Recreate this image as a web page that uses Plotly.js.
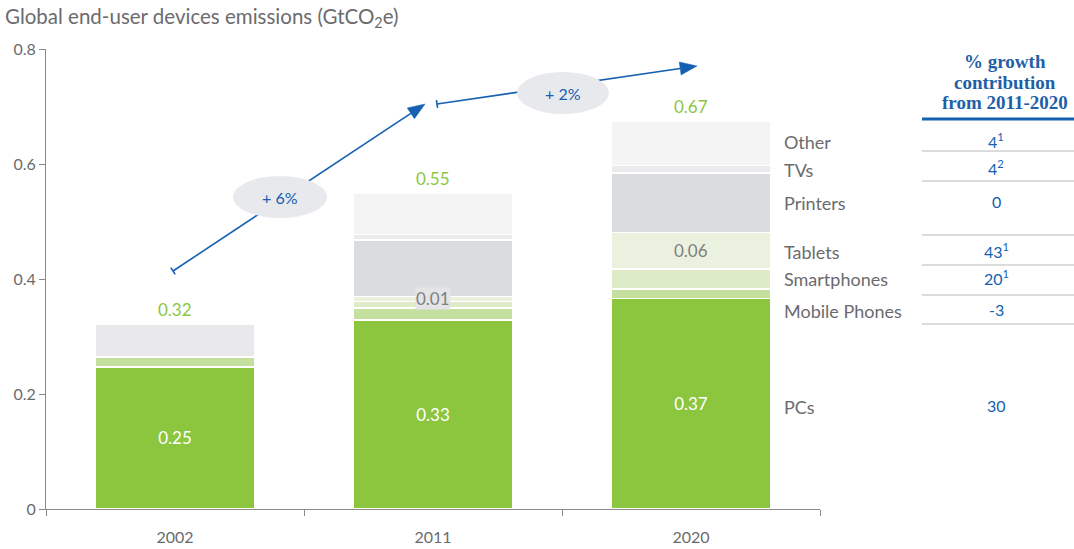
<!DOCTYPE html>
<html>
<head>
<meta charset="utf-8">
<script src="https://cdn.plot.ly/plotly-3.0.1.min.js"></script>
<style>html,body{margin:0;padding:0;background:#fff;}#chart{width:1074px;height:549px;}</style>
</head>
<body>
<div id="chart"></div>
<script>
// ---- data ----
const years = ['2002', '2011', '2020'];
const pcs = [0.247, 0.329, 0.366];
const mobilePhones = [0.017, 0.021, 0.017];
const smartphones = [0, 0.011, 0.034];
const tablets = [0, 0.009, 0.064];
const printers = [0, 0.098, 0.103];
const tvs = [0, 0.009, 0.013];
const other = [0.058, 0.073, 0.077];
const totals = ['0.32', '0.55', '0.67'];
const pcLabels = ['0.25', '0.33', '0.37'];
const tabletLabels = ['', '0.01', '0.06'];
const segmentNames = ['Other', 'TVs', 'Printers', 'Tablets', 'Smartphones', 'Mobile Phones', 'PCs'];
const growth = ['4<sup>1</sup>', '4<sup>2</sup>', '0', '43<sup>1</sup>', '20<sup>1</sup>', '-3', '30'];
const growthHeader = ['% growth', 'contribution', 'from 2011-2020'];
const cagrLabels = ['+ 6%', '+ 2%'];

// ---- layout helpers (pixel -> paper) ----
const L = 46, R = 820, T = 49, B = 509;
const px = x => (x - L) / (R - L);
const py = y => (B - y) / (B - T);

const FONT = 'Lato, Open Sans, sans-serif';
const GREY = '#6b6b6e';
const BLUE = '#1560B0';
const GREEN = '#8CC63F';

function bar(name, vals, color, extra) {
  return Object.assign({
    type: 'bar', name: name, x: years, y: vals,
    width: 0.62,
    marker: {color: color, line: {color: '#ffffff', width: 1.5}},
    hoverinfo: 'skip', textposition: 'none'
  }, extra || {});
}

const traces = [
  bar('PCs', pcs, GREEN, {text: pcLabels, textposition: 'inside', insidetextanchor: 'middle',
      textfont: {color: '#ffffff', size: 17, family: FONT}}),
  bar('Mobile Phones', mobilePhones, '#C5DF9E'),
  bar('Smartphones', smartphones, '#DDEBC9'),
  bar('Tablets', tablets, '#EAF2DF'),
  bar('Printers', printers, '#DBDCDE'),
  bar('TVs', tvs, '#EBEBEE'),
  bar('Other', other, ['#E9E9EC', '#F4F4F5', '#F4F4F5'])
];

const annotations = [];
const shapes = [];

// totals above bars
years.forEach((yr, i) => {
  const tot = pcs[i] + mobilePhones[i] + smartphones[i] + tablets[i] + printers[i] + tvs[i] + other[i];
  annotations.push({x: i, y: tot, xref: 'x', yref: 'y', text: totals[i], showarrow: false,
    xanchor: 'center', yanchor: 'bottom', yshift: 2, font: {color: GREEN, size: 17, family: FONT}});
  if (tabletLabels[i]) {
    const base = pcs[i] + mobilePhones[i] + smartphones[i];
    const small = tablets[i] < 0.02;
    annotations.push({x: i, y: base + tablets[i] / 2, xref: 'x', yref: 'y', text: tabletLabels[i],
      showarrow: false, xanchor: 'center', yanchor: 'middle', font: {color: '#808080', size: 17, family: FONT},
      bgcolor: small ? '#E4E4E6' : 'rgba(0,0,0,0)', borderpad: 0});
  }
});

// segment names on right + table values
const nameY = [142, 170, 203, 252, 279, 311, 407];
segmentNames.forEach((n, i) => {
  annotations.push({x: px(782), y: py(nameY[i]), xref: 'paper', yref: 'paper', text: n,
    showarrow: false, xanchor: 'left', yanchor: 'middle', font: {color: GREY, size: 18, family: FONT}});
  annotations.push({x: px(996), y: py(nameY[i] - 2), xref: 'paper', yref: 'paper', text: growth[i],
    showarrow: false, xanchor: 'center', yanchor: 'middle', font: {color: BLUE, size: 16, family: FONT}});
});

// table header + lines
[62, 82, 102].forEach((yy, i) => {
  annotations.push({x: px(1005), y: py(yy), xref: 'paper', yref: 'paper', text: '<b>' + growthHeader[i] + '</b>',
    showarrow: false, xanchor: 'center', yanchor: 'middle',
    font: {color: '#1F5FA8', size: 19, family: 'Liberation Serif, serif'}});
});
shapes.push({type: 'line', xref: 'paper', yref: 'paper', x0: px(922), x1: px(1074), y0: py(119), y1: py(119),
  line: {color: BLUE, width: 3}});
[151, 181, 235, 265, 295, 324].forEach(yy => {
  shapes.push({type: 'line', xref: 'paper', yref: 'paper', x0: px(922), x1: px(1074), y0: py(yy), y1: py(yy),
    line: {color: '#CFCFCF', width: 1.5}});
});

// growth arrows
const arrows = [
  {tail: [173, 271], head: [425, 104], ell: [280, 197, 94, 42]},
  {tail: [437, 104], head: [697, 66], ell: [563, 93, 92, 42]}
];
arrows.forEach((a, i) => {
  const dx = a.head[0] - a.tail[0], dy = a.head[1] - a.tail[1];
  const len = Math.hypot(dx, dy), ux = dx / len, uy = dy / len;
  const nx = -uy, ny = ux;
  const hl = 17, hw = 6.5;
  const bx = a.head[0] - ux * hl, by = a.head[1] - uy * hl;
  shapes.push({type: 'line', xref: 'paper', yref: 'paper', x0: px(a.tail[0]), y0: py(a.tail[1]),
    x1: px(bx), y1: py(by), line: {color: BLUE, width: 1.6}});
  shapes.push({type: 'line', xref: 'paper', yref: 'paper', x0: px(a.tail[0] + nx * 4), y0: py(a.tail[1] + ny * 4),
    x1: px(a.tail[0] - nx * 4), y1: py(a.tail[1] - ny * 4), line: {color: BLUE, width: 1.6}});
  const p1 = [bx + nx * hw, by + ny * hw], p2 = [bx - nx * hw, by - ny * hw];
  shapes.push({type: 'path', xref: 'paper', yref: 'paper',
    path: `M${px(a.head[0])},${py(a.head[1])} L${px(p1[0])},${py(p1[1])} L${px(p2[0])},${py(p2[1])} Z`,
    fillcolor: BLUE, line: {color: BLUE, width: 0.5}});
  const e = a.ell;
  shapes.push({type: 'circle', xref: 'paper', yref: 'paper', x0: px(e[0] - e[2] / 2), x1: px(e[0] + e[2] / 2),
    y0: py(e[1] - e[3] / 2), y1: py(e[1] + e[3] / 2), fillcolor: '#E8E9EC', line: {width: 0}});
  annotations.push({x: px(e[0]), y: py(e[1]), xref: 'paper', yref: 'paper', text: cagrLabels[i],
    showarrow: false, xanchor: 'center', yanchor: 'middle', font: {color: BLUE, size: 16, family: FONT}});
});

const layout = {
  width: 1074, height: 549,
  margin: {l: L, r: 1074 - R, t: T, b: 549 - B},
  paper_bgcolor: '#ffffff', plot_bgcolor: '#ffffff',
  barmode: 'stack', showlegend: false,
  font: {family: FONT, color: GREY},
  title: {text: 'Global end-user devices emissions (GtCO<sub>2</sub>e)', x: 5 / 1074, xanchor: 'left',
    xref: 'container', y: 1 - 17 / 549, yanchor: 'middle', yref: 'container',
    font: {size: 20.5, color: GREY, family: FONT}},
  xaxis: {type: 'category', range: [-0.5, 2.5], showline: true, linecolor: '#8a8a8a', linewidth: 1,
    ticks: 'outside', tickson: 'boundaries', ticklen: 6, tickcolor: '#8a8a8a', ticklabelstandoff: 14,
    tickfont: {size: 16, color: GREY}, showgrid: false, zeroline: false, fixedrange: true},
  yaxis: {range: [0, 0.8], tickvals: [0, 0.2, 0.4, 0.6, 0.8], ticktext: ['0', '0.2', '0.4', '0.6', '0.8'],
    showline: true, linecolor: '#8a8a8a', linewidth: 1, ticks: 'outside', ticklen: 6, tickcolor: '#8a8a8a',
    tickfont: {size: 16, color: GREY}, showgrid: false, zeroline: false, fixedrange: true},
  annotations: annotations,
  shapes: shapes
};

Plotly.newPlot('chart', traces, layout, {displayModeBar: false, staticPlot: true});
</script>
</body>
</html>
